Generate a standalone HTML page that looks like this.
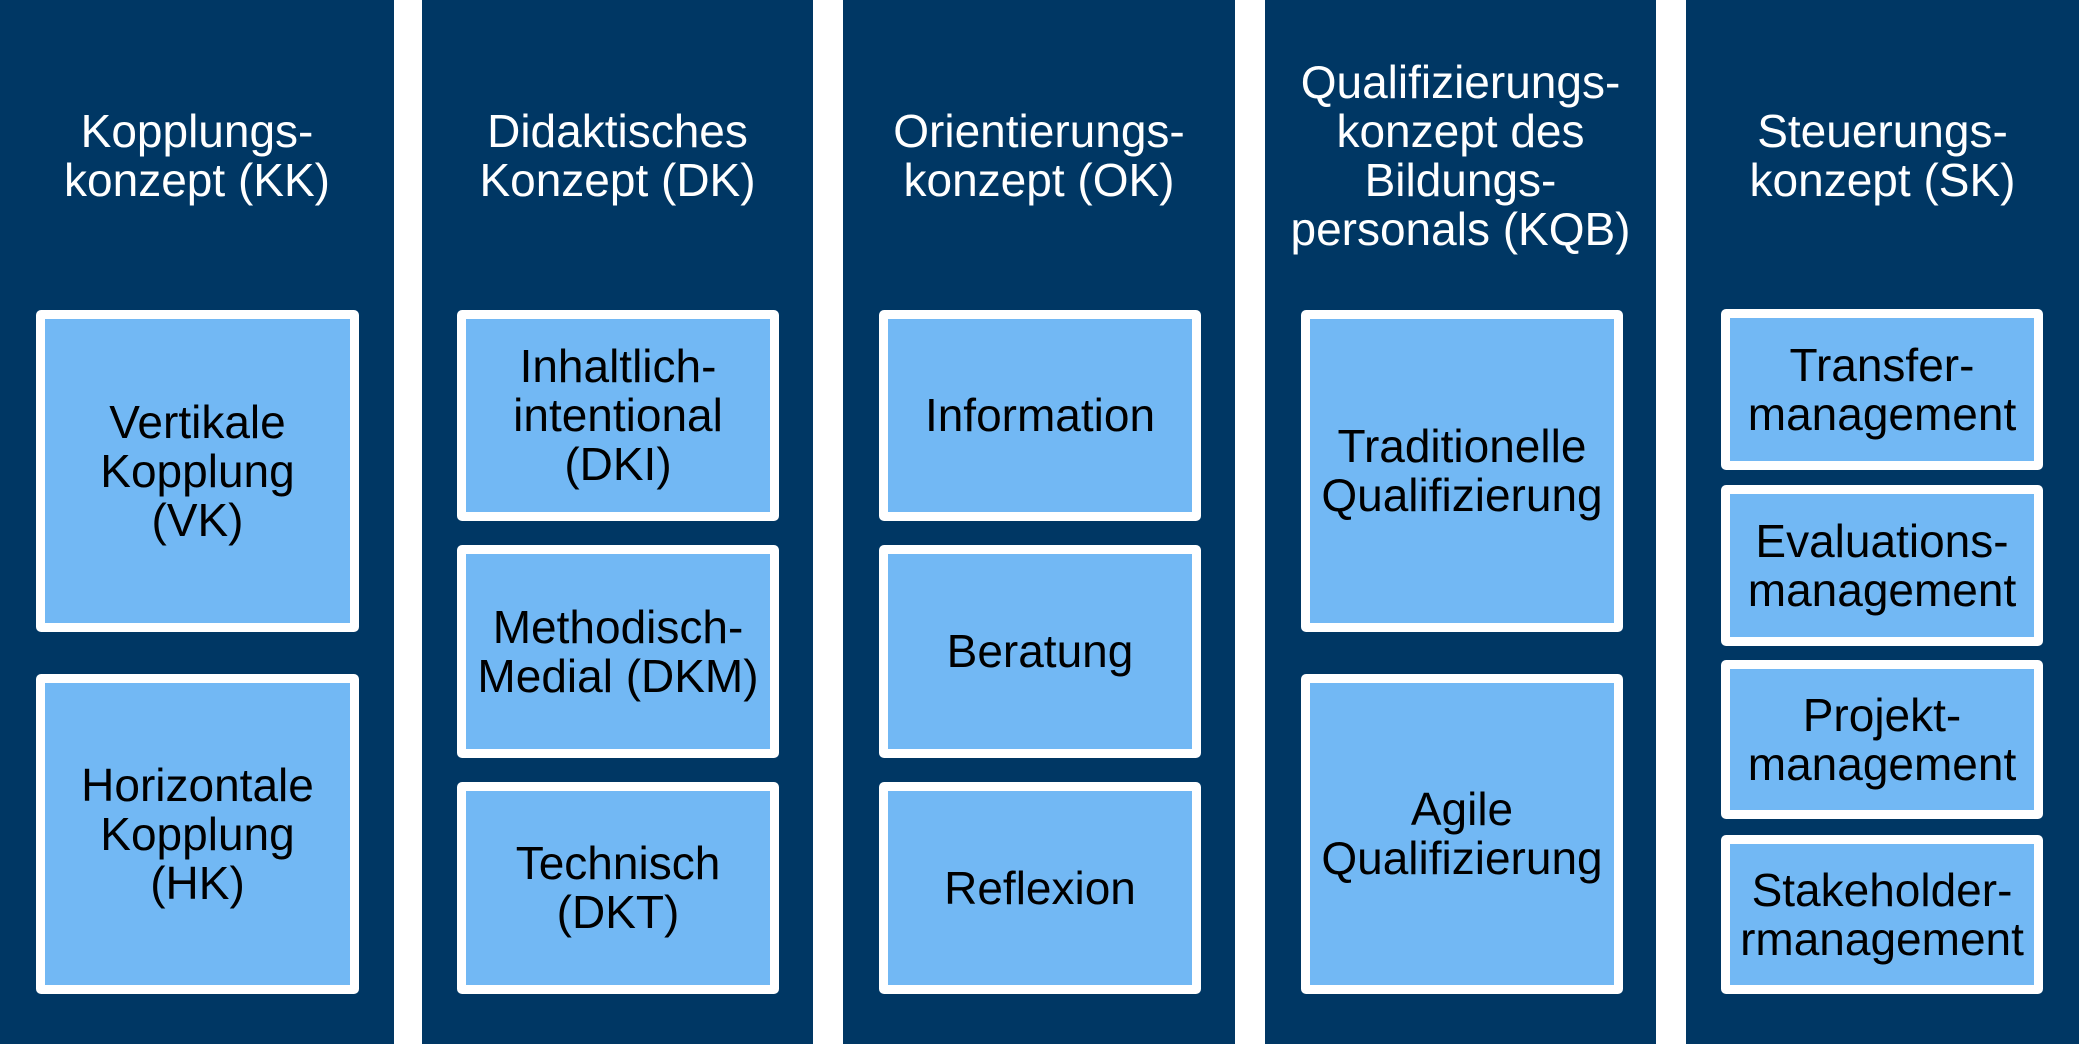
<!DOCTYPE html>
<html><head><meta charset="utf-8"><style>
*{margin:0;padding:0;box-sizing:border-box}
body{width:2079px;height:1044px;background:#fff;position:relative;overflow:hidden;font-family:"Liberation Sans",Arial,sans-serif}
.col{position:absolute;top:0;height:1044px;background:#003764}
.t{position:absolute;left:0;right:0;top:40px;height:232px;display:flex;align-items:center;justify-content:center;text-align:center;color:#fff;font-size:46px;line-height:49px}
.b{position:absolute;background:#72b8f4;border:9px solid #fff;border-radius:5px;display:flex;align-items:center;justify-content:center;text-align:center;color:#000;font-size:46px;line-height:49px}
</style></head><body>
<div class="col" style="left:0;width:394px"><div class="t">Kopplungs-<br>konzept (KK)</div></div>
<div class="col" style="left:422px;width:391px"><div class="t">Didaktisches<br>Konzept (DK)</div></div>
<div class="col" style="left:843px;width:392px"><div class="t">Orientierungs-<br>konzept (OK)</div></div>
<div class="col" style="left:1265px;width:391px"><div class="t">Qualifizierungs-<br>konzept des<br>Bildungs-<br>personals (KQB)</div></div>
<div class="col" style="left:1686px;width:393px"><div class="t">Steuerungs-<br>konzept (SK)</div></div>

<div class="b" style="left:36px;top:310px;width:323px;height:322px">Vertikale<br>Kopplung<br>(VK)</div>
<div class="b" style="left:36px;top:674px;width:323px;height:320px">Horizontale<br>Kopplung<br>(HK)</div>

<div class="b" style="left:457px;top:310px;width:322px;height:211px">Inhaltlich-<br>intentional<br>(DKI)</div>
<div class="b" style="left:457px;top:545px;width:322px;height:213px">Methodisch-<br>Medial (DKM)</div>
<div class="b" style="left:457px;top:782px;width:322px;height:212px">Technisch<br>(DKT)</div>

<div class="b" style="left:879px;top:310px;width:322px;height:211px">Information</div>
<div class="b" style="left:879px;top:545px;width:322px;height:213px">Beratung</div>
<div class="b" style="left:879px;top:782px;width:322px;height:212px">Reflexion</div>

<div class="b" style="left:1301px;top:310px;width:322px;height:322px">Traditionelle<br>Qualifizierung</div>
<div class="b" style="left:1301px;top:674px;width:322px;height:320px">Agile<br>Qualifizierung</div>

<div class="b" style="left:1721px;top:309px;width:322px;height:161px">Transfer-<br>management</div>
<div class="b" style="left:1721px;top:485px;width:322px;height:161px">Evaluations-<br>management</div>
<div class="b" style="left:1721px;top:660px;width:322px;height:159px">Projekt-<br>management</div>
<div class="b" style="left:1721px;top:835px;width:322px;height:159px">Stakeholder-<br>rmanagement</div>
</body></html>
